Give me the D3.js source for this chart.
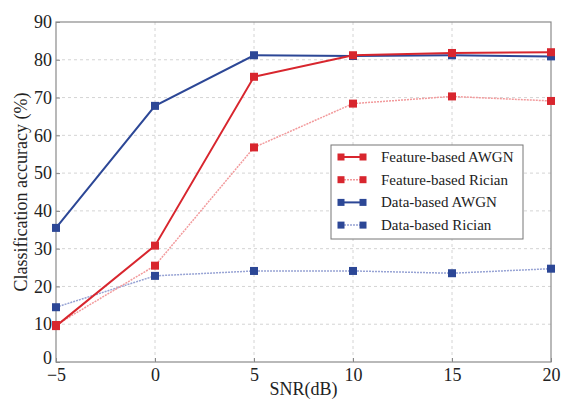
<!DOCTYPE html>
<html>
<head>
<meta charset="utf-8">
<script src="https://cdn.jsdelivr.net/npm/d3@7"></script>
<style>
  body { margin: 0; background: #fff; }
  text { font-family: "Liberation Serif", "Times New Roman", serif; fill: #222; }
</style>
</head>
<body>
<svg id="chart" width="562" height="400"></svg>
<script>
// SNR values on the x axis
let snr = [-5, 0, 5, 10, 15, 20];
let xTicks = [-5, 0, 5, 10, 15, 20];
let yTicks = [0, 10, 20, 30, 40, 50, 60, 70, 80, 90];

// accuracy (%)
let featureAwgn   = [9.5, 30.8, 75.5, 81.2, 81.8, 82.0];
let featureRician = [9.8, 25.5, 56.8, 68.4, 70.3, 69.1];
let dataAwgn      = [35.5, 67.8, 81.2, 81.0, 81.2, 80.9];
let dataRician    = [14.5, 22.8, 24.1, 24.1, 23.5, 24.7];

let seriesNames = ["Feature-based AWGN", "Feature-based Rician", "Data-based AWGN", "Data-based Rician"];

function draw() {
    let svg    = d3.select("#chart"),
        margin = {top: 22, right: 11, bottom: 38, left: 56},
        width  = +svg.attr("width") - margin.left - margin.right,
        height = +svg.attr("height") - margin.top - margin.bottom,
        g      = svg.append("g").attr("transform", `translate(${margin.left},${margin.top})`);

    let x = d3.scaleLinear().domain([-5, 20]).range([0, width]);
    let y = d3.scaleLinear().domain([0, 90]).range([height, 0]);

    // grid
    g.append("g").selectAll("line").data(yTicks.slice(1, -1)).enter().append("line")
     .attr("x1", 0).attr("x2", width)
     .attr("y1", d => y(d)).attr("y2", d => y(d))
     .attr("stroke", "#d4d4d4").attr("stroke-dasharray", "3,3");
    g.append("g").selectAll("line").data(xTicks.slice(1, -1)).enter().append("line")
     .attr("y1", 0).attr("y2", height)
     .attr("x1", d => x(d)).attr("x2", d => x(d))
     .attr("stroke", "#d4d4d4").attr("stroke-dasharray", "3,3");

    // axes
    let xAxis = g.append("g").attr("transform", `translate(0,${height})`)
                 .call(d3.axisBottom(x).tickValues(xTicks).tickSize(-4).tickPadding(6)
                         .tickFormat(d => d < 0 ? "\u2212" + (-d) : d));
    let yAxis = g.append("g")
                 .call(d3.axisLeft(y).tickValues(yTicks).tickSize(-4).tickPadding(4));
    [xAxis, yAxis].forEach(a => {
        a.select(".domain").remove();
        a.selectAll("line").attr("stroke", "#888");
        a.selectAll("text").style("font-size", "18px").attr("fill", "#222")
         .style("font-family", "'Liberation Serif', serif");
    });
    // lift the "0" on the y axis a little so it clears the "-5" below it
    yAxis.selectAll(".tick text").filter(d => d === 0).attr("dy", "0.1em");
    g.append("rect").attr("width", width).attr("height", height)
     .attr("fill", "none").attr("stroke", "#8a8a8a").attr("stroke-width", 1.2);

    svg.append("text")
       .attr("x", margin.left + width / 2).attr("y", 395)
       .attr("text-anchor", "middle").style("font-size", "18px")
       .text("SNR(dB)");
    svg.append("text")
       .attr("transform", `translate(27,${margin.top + height / 2}) rotate(-90)`)
       .attr("text-anchor", "middle").style("font-size", "18px")
       .text("Classification accuracy (%)");

    let series = [
        {name: seriesNames[0], values: featureAwgn,   line: "#d8262e", marker: "#d8262e", dash: null,  w: 2},
        {name: seriesNames[1], values: featureRician, line: "#f29a9c", marker: "#d8262e", dash: "2,1", w: 1.5},
        {name: seriesNames[2], values: dataAwgn,      line: "#2c4796", marker: "#2c4796", dash: null,  w: 2},
        {name: seriesNames[3], values: dataRician,    line: "#97a3d4", marker: "#2c4796", dash: "2,1", w: 1.5}
    ];

    let line = d3.line().x(d => x(d[0])).y(d => y(d[1]));

    // draw rician first so solid lines sit on top
    [series[3], series[1], series[2], series[0]].forEach(s => {
        let pts = d3.zip(snr, s.values);
        g.append("path").datum(pts)
         .attr("d", line).attr("fill", "none")
         .attr("stroke", s.line).attr("stroke-width", s.w)
         .attr("stroke-dasharray", s.dash);
        g.selectAll(null).data(pts).enter().append("rect")
         .attr("x", d => x(d[0]) - 4).attr("y", d => y(d[1]) - 4)
         .attr("width", 8).attr("height", 8)
         .attr("fill", s.marker);
    });

    // legend
    let lg = svg.append("g").attr("transform", "translate(331,145)");
    lg.append("rect").attr("width", 192).attr("height", 94)
      .attr("fill", "#fff").attr("stroke", "#777").attr("stroke-width", 1);
    series.forEach((s, i) => {
        let ly = 12 + i * 22.7;
        lg.append("line").attr("x1", 10).attr("x2", 32).attr("y1", ly).attr("y2", ly)
          .attr("stroke", s.line).attr("stroke-width", s.w).attr("stroke-dasharray", s.dash);
        [10, 32].forEach(cx => lg.append("rect").attr("x", cx - 3.5).attr("y", ly - 3.5)
          .attr("width", 7).attr("height", 7).attr("fill", s.marker));
        lg.append("text").attr("x", 50).attr("y", ly + 5).style("font-size", "15px").text(s.name);
    });
}

document.addEventListener("DOMContentLoaded", draw);
</script>
</body>
</html>
